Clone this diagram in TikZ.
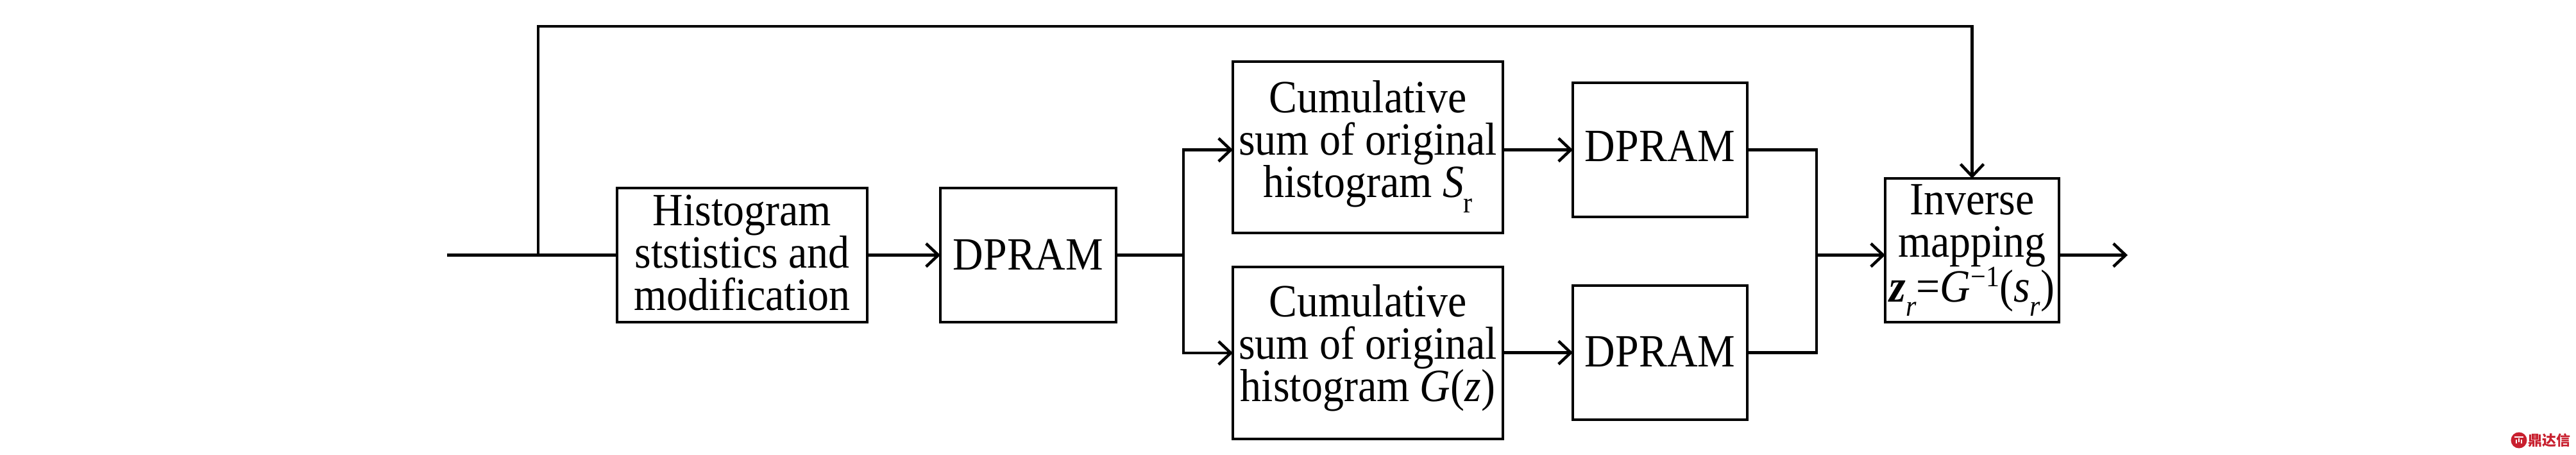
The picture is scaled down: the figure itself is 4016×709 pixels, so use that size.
\documentclass[tikz,border=0pt]{standalone}
\usepackage{fontspec}
\setmainfont[FakeStretch=0.915]{Liberation Serif}
\newfontfamily\cjkwm{Noto Sans CJK SC}
\usetikzlibrary{arrows.meta}
\newcommand\ptxt[2]{\raisebox{#1pt}[0pt][0pt]{\vtop{\baselineskip=66.3pt\lineskiplimit=-100pt\halign{\hfil##\hfil\cr#2\crcr}}}}
\newcommand\subdn[2]{\lower#1pt\hbox{\fontsize{46}{46}\selectfont #2}}
\newcommand\supup[2]{\raise#1pt\hbox{\fontsize{46}{46}\selectfont #2}}
\definecolor{wmred}{HTML}{C8202F}
\tikzset{
  x=1pt,y=-1pt,
  blockbox/.style={draw=black,line width=4.5pt,inner sep=0pt,outer sep=0pt,line join=miter,
    font=\fontsize{72}{66}\selectfont},
  wire/.style={draw=black,line width=4.5pt,line join=miter},
  flow/.style={wire,-{Straight Barb[length=19pt,width=36pt,line width=4.5pt]}},
  wmark/.style={inner sep=0pt,outer sep=0pt,text=wmred,font=\cjkwm\bfseries\fontsize{22}{22}\selectfont},
}
\begin{document}
\begin{tikzpicture}
\useasboundingbox (0,0) rectangle (4016,709);
\node[blockbox,minimum width=390pt,minimum height=209pt] (hist) at (1157,397.5)
  {\ptxt{46.5}{Histogram\cr ststistics and\cr modification}};
\node[blockbox,minimum width=274pt,minimum height=209pt] (d1) at (1603,397.5)
  {\ptxt{-22.5}{DPRAM}};
\node[blockbox,minimum width=421pt,minimum height=267pt] (cum1) at (2132.5,229.5)
  {\ptxt{54.5}{Cumulative\cr sum of original\cr histogram \textit{S}\subdn{24}{r}}};
\node[blockbox,minimum width=421pt,minimum height=268pt] (cum2) at (2132.5,550)
  {\ptxt{57}{Cumulative\cr sum of original\cr histogram \textit{G}(\textit{z})}};
\node[blockbox,minimum width=272pt,minimum height=209pt] (d2) at (2588,233.5)
  {\ptxt{-17.5}{DPRAM}};
\node[blockbox,minimum width=272pt,minimum height=209pt] (d3) at (2588,549.5)
  {\ptxt{-22}{DPRAM}};
\node[blockbox,minimum width=271pt,minimum height=224pt] (inv) at (3074.5,390)
  {\ptxt{56}{Inverse\cr mapping\cr\noalign{\vskip4pt}\textbf{\textit{z}}\subdn{22}{\textit{r}}=\textit{G}\supup{24}{−1}(\textit{s}\subdn{22}{\textit{r}})}};

\coordinate (in) at (697,397.5);
\coordinate (tap) at (839,397.5);
\coordinate (topL) at (839,41);
\coordinate (topR) at (3074.5,41);
\coordinate (branch) at (1845,397.5);
\coordinate (merge) at (2832,397.5);
\coordinate (out) at (3317,397.5);

\draw[wire] (in) -- (hist.west);
\draw[flow] (tap) -- (topL) -- (topR) -- (inv.north);
\draw[flow] (hist.east) -- (d1.west);
\draw[wire] (d1.east) -- (branch);
\draw[flow] (branch) |- (cum1.west |- d2.west);
\draw[flow] (branch) |- (cum2.west);
\draw[flow] (cum1.east |- d2.west) -- (d2.west);
\draw[flow] (cum2.east |- d3.west) -- (d3.west);
\draw[wire] (d2.east) -| (merge);
\draw[wire] (d3.east) -| (merge);
\draw[flow] (merge) -- (inv.west |- merge);
\draw[flow] (inv.east |- merge) -- (out);

\node[circle,fill=wmred,minimum size=25pt,inner sep=0pt] (wmlogo) at (3927,686) {};
\draw[white,line width=1.2pt] (3920,681) -- (3934,681) (3923,685) -- (3923,691) (3931,685) -- (3931,691) (3927,683) -- (3927,689);
\node[wmark,anchor=west] (wmtext) at (3941,686.5) {鼎达信};
\end{tikzpicture}
\end{document}
